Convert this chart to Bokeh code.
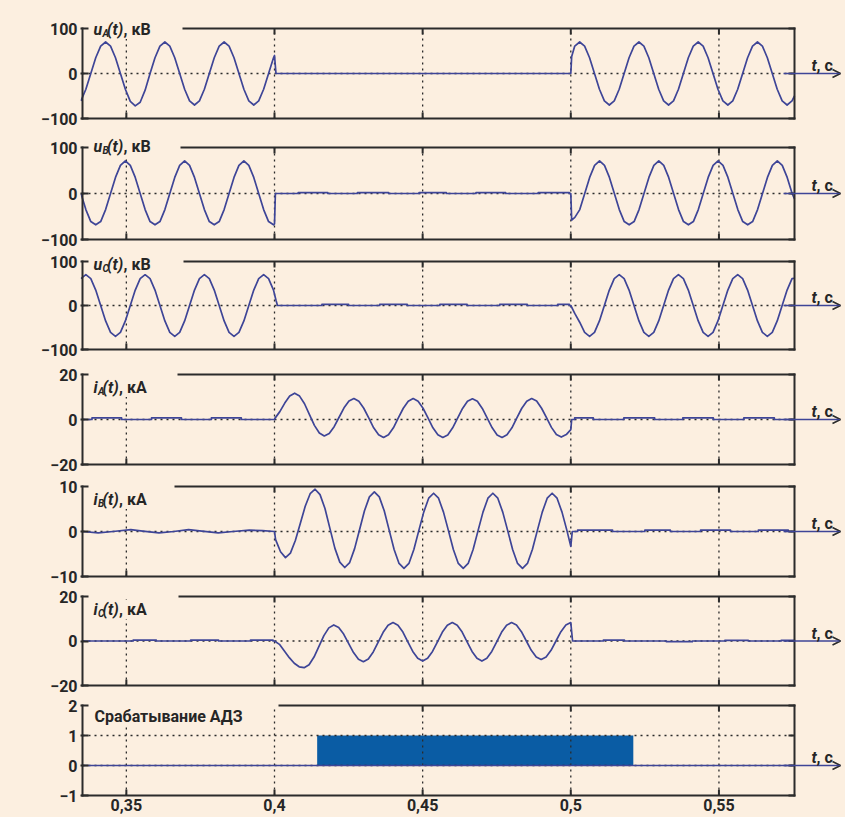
from bokeh.plotting import figure
from bokeh.layouts import column
from bokeh.models import Range1d, FixedTicker, CustomJSTickFormatter, Label, Arrow, OpenHead
from bokeh.embed import file_html
from bokeh.resources import INLINE

# ------------------------------------------------------------------
# Data
# ------------------------------------------------------------------
DT = 0.02 / 12                     # read-off step: 1/12 of a 50 Hz period
XTICKS = [0.35, 0.40, 0.45, 0.50, 0.55]
T_LEFT, T_RIGHT = 0.3352, 0.5755   # visible time window, s

# u_A(t), kV
uA_pre_t0 = 0.334667
uA_pre = [-61, -35, 0, 35, 61, 70, 61, 35, 0, -35,
          -62, -72, -64, -37, 0, 35, 61, 70, 61, 35,
          0, -35, -61, -70, -61, -35, 0, 35, 61, 70,
          61, 35, 0, -35, -61, -70, -61, -35, 0, 35]
uA_post_t0 = 0.501333
uA_post = [61, 70, 61, 35, 0, -35, -61, -70, -61, -35,
           0, 35, 61, 70, 61, 35, 0, -35, -61, -70,
           -61, -35, 0, 35, 61, 70, 61, 35, 0, -35,
           -61, -70, -61, -35, 0, 35, 61, 70, 61, 35,
           0, -35, -61, -70, -61]

# u_B(t), kV
uB_pre_t0 = 0.334667
uB_pre = [0, -35, -61, -68, -61, -35, 0, 35, 61, 71,
          61, 35, 0, -35, -61, -68, -61, -35, 0, 35,
          61, 71, 61, 35, 0, -35, -61, -68, -61, -35,
          0, 35, 61, 71, 61, 35, 0, -35, -61, -68]
uB_ripple = [(0.408, 0.418, 2), (0.428, 0.4385, 2), (0.4488, 0.458, 2),
             (0.468, 0.478, 2), (0.489, 0.4995, 2)]
uB_post_t0 = 0.501367
uB_post = [-52, -35, 0, 35, 61, 71, 61, 35, 0, -35,
           -61, -68, -61, -35, 0, 35, 61, 71, 61, 35,
           0, -35, -61, -68, -61, -35, 0, 35, 61, 71,
           61, 35, 0, -35, -61, -68, -61, -35, 0, 35,
           61, 71, 61, 35, 0]

# u_C(t), kV
uC_pre_t0 = 0.334667
uC_pre = [61, 70, 61, 35, 0, -35, -61, -70, -61, -35,
          0, 35, 61, 70, 61, 35, 0, -35, -61, -70,
          -61, -35, 0, 35, 61, 70, 61, 35, 0, -35,
          -61, -70, -61, -35, 0, 35, 61, 70, 61, 35]
uC_ripple = [(0.416, 0.425, 2.5), (0.4355, 0.4448, 2.5), (0.4558, 0.465, 2.5),
             (0.476, 0.4853, 2.5), (0.4956, 0.4995, 2.5)]
uC_post_t0 = 0.501333
uC_post = [-18, -38, -61, -70, -61, -35, 0, 35, 61, 70,
           61, 35, 0, -35, -61, -70, -61, -35, 0, 35,
           61, 70, 61, 35, 0, -35, -61, -70, -61, -35,
           0, 35, 61, 70, 61, 35, 0, -35, -61, -70,
           -61, -35, 0, 35, 61]

# i_A(t), kA
iA_ripple_pre = [(0.3384, 0.3484, 0.7), (0.3585, 0.3686, 0.7), (0.3787, 0.3888, 0.7)]
iA_fault_t0 = 0.400133
iA_fault = [0.5, 3.5, 7.3, 10.4, 11.7, 10.4, 7.0, 2.2, -2.6, -6.0,
            -7.3, -6.2, -3.2, 1.0, 5.2, 8.2, 9.3, 8.1, 5.0, 0.7,
            -3.7, -6.8, -8.0, -6.8, -3.7, 0.7, 5.0, 8.1, 9.3, 8.1,
            5.0, 0.7, -3.7, -6.8, -8.0, -6.9, -3.7, 0.6, 4.9, 8.1,
            9.2, 8.1, 4.9, 0.6, -3.7, -6.9, -8.0, -6.8, -3.7, 0.7,
            5.0, 8.1, 9.3, 8.2, 5.0, 0.8, -3.5, -6.7, -7.8, -6.7]
iA_ripple_post = [(0.5013, 0.5076, 0.7), (0.5179, 0.5283, 0.7),
                  (0.5378, 0.5481, 0.7), (0.5584, 0.5687, 0.7)]

# i_B(t), kA
iB_pre_t = [0.3352, 0.3405, 0.3455, 0.3515, 0.3555, 0.361, 0.366,
            0.371, 0.3755, 0.381, 0.386, 0.3915, 0.396, 0.4]
iB_pre_v = [0.0, -0.3, 0.0, 0.4, 0.1, -0.3, 0.0, 0.4, 0.1, -0.3, 0.0, 0.3, 0.2, 0.0]
iB_fault_t0 = 0.400367
iB_fault = [-1.8, -4.5, -5.8, -4.8, -2.0, 1.8, 5.6, 8.4, 9.4, 8.2,
            5.1, 0.7, -3.7, -6.8, -8.0, -6.9, -3.8, 0.4, 4.6, 7.7,
            8.8, 7.7, 4.6, 0.3, -4.0, -7.1, -8.2, -7.1, -4.0, 0.2,
            4.3, 7.4, 8.5, 7.4, 4.3, 0.2, -4.0, -7.1, -8.2, -7.1,
            -4.0, 0.2, 4.3, 7.4, 8.5, 7.4, 4.3, 0.2, -4.0, -7.1,
            -8.2, -7.1, -4.0, 0.2, 4.3, 7.4, 8.5, 7.4, 4.3, 0.2]
iB_ripple_post = [(0.5023, 0.5141, 0.3), (0.525, 0.5336, 0.3),
                  (0.5438, 0.5539, 0.3), (0.5633, 0.5734, 0.3)]

# i_C(t), kA
iC_ripple_pre = [(0.3523, 0.3601, 0.4), (0.3717, 0.3811, 0.4), (0.3919, 0.3995, 0.4)]
iC_fault_t0 = 0.4
iC_fault = [0, -1.5, -4.5, -7.5, -10.0, -11.6, -12.0, -10.7, -7.2, -2.4,
            2.4, 5.9, 7.2, 6.1, 3.1, -1.1, -5.2, -8.2, -9.3, -8.1,
            -4.9, -0.5, 3.9, 7.1, 8.3, 7.1, 4.0, -0.4, -4.7, -7.8,
            -9.0, -7.8, -4.7, -0.4, 4.0, 7.1, 8.3, 7.1, 4.0, -0.4,
            -4.7, -7.8, -9.0, -7.8, -4.7, -0.4, 4.0, 7.1, 8.3, 7.2,
            4.2, 0.0, -4.2, -7.2, -8.3, -7.2, -4.2, 0.0, 4.2, 7.2,
            8.3]
iC_ripple_post = [(0.511, 0.5181, 0.4), (0.5323, 0.541, -0.3),
                  (0.552, 0.5599, 0.3), (0.571, 0.5755, 0.3)]

# Trip signal of the protection (АДЗ)
trip_on, trip_off = 0.4144, 0.5211


# ------------------------------------------------------------------
# Assemble series
# ------------------------------------------------------------------
def grid(t0, n):
    return [t0 + k * DT for k in range(n)]


def ripple(t_from, t_to, bumps):
    t, v = [t_from], [0.0]
    for a, b, h in bumps:
        t += [a, a, b, b]
        v += [0.0, h, h, 0.0]
    t.append(t_to)
    v.append(0.0)
    return t, v


uA_t = grid(uA_pre_t0, len(uA_pre)) + [0.4, 0.4005, 0.5, 0.5003] + grid(uA_post_t0, len(uA_post)) + [T_RIGHT]
uA_v = uA_pre + [40, 0, 0, 38] + uA_post + [-50]

rB_t, rB_v = ripple(0.4003, 0.5, uB_ripple)
uB_t = grid(uB_pre_t0, len(uB_pre)) + [0.4] + rB_t + [0.5003] + grid(uB_post_t0, len(uB_post)) + [T_RIGHT]
uB_v = uB_pre + [-66] + rB_v + [-58] + uB_post + [-12]

rC_t, rC_v = ripple(0.401, 0.5, uC_ripple)
uC_t = grid(uC_pre_t0, len(uC_pre)) + [0.4005] + rC_t + grid(uC_post_t0, len(uC_post)) + [T_RIGHT]
uC_v = uC_pre + [12] + rC_v + uC_post + [62]

a1_t, a1_v = ripple(T_LEFT, 0.4, iA_ripple_pre)
a2_t, a2_v = ripple(0.5003, T_RIGHT, iA_ripple_post)
iA_t = a1_t + grid(iA_fault_t0, len(iA_fault)) + [0.5] + a2_t
iA_v = a1_v + iA_fault + [-4.5] + a2_v

b2_t, b2_v = ripple(0.5005, T_RIGHT, iB_ripple_post)
iB_t = iB_pre_t + grid(iB_fault_t0, len(iB_fault)) + [0.5] + b2_t
iB_v = iB_pre_v + iB_fault + [-3.3] + b2_v

c1_t, c1_v = ripple(T_LEFT, 0.3995, iC_ripple_pre)
c2_t, c2_v = ripple(0.5006, T_RIGHT, iC_ripple_post)
iC_t = c1_t + grid(iC_fault_t0, len(iC_fault)) + [0.5003] + c2_t
iC_v = c1_v + iC_fault + [4.0] + c2_v

# ------------------------------------------------------------------
# Styling / layout
# ------------------------------------------------------------------
BG = "#fcefe0"
FRAME_C = "#2b2b2b"
GRID_C = "#2b2b2b"
LINE_C = "#3e4597"
BAR_C = "#0a5ca4"
TEXT_C = "#262626"
FONT = "Roboto"
WEIGHT = "bold"

W = 845
FRAME_L, BORDER_L, BORDER_R, FRAME_R = 80, 82, 794, 843
PPS = (BORDER_R - BORDER_L) / (T_RIGHT - T_LEFT)   # px per second
X_START = T_LEFT - (BORDER_L - FRAME_L) / PPS
X_END = T_LEFT + (FRAME_R - BORDER_L) / PPS
D = 2          # px of frame below the drawn bottom border
TICK = 6       # tick length, px


def px_t(px):
    return T_LEFT + (px - BORDER_L) / PPS


panels = [
    dict(t=uA_t, v=uA_v, ylim=(-100, 100), yticks=[-100, 0, 100], T=28, B=118, S=(0, 127),
         main="u", sub="A", unit="кВ", tx=93, tb=29, gap=182),
    dict(t=uB_t, v=uB_v, ylim=(-100, 100), yticks=[-100, 0, 100], T=147, B=239, S=(127, 250),
         main="u", sub="B", unit="кВ", tx=93, tb=146, gap=180),
    dict(t=uC_t, v=uC_v, ylim=(-100, 100), yticks=[-100, 0, 100], T=261, B=349, S=(250, 361),
         main="u", sub="C", unit="кВ", tx=93, tb=264, gap=183),
    dict(t=iA_t, v=iA_v, ylim=(-20, 20), yticks=[-20, 0, 20], T=374, B=464, S=(361, 475),
         main="i", sub="A", unit="кА", tx=93, tb=387, gap=177),
    dict(t=iB_t, v=iB_v, ylim=(-10, 10), yticks=[-10, 0, 10], T=486, B=576, S=(475, 586),
         main="i", sub="B", unit="кА", tx=93, tb=499, gap=174),
    dict(t=iC_t, v=iC_v, ylim=(-20, 20), yticks=[-20, 0, 20], T=596, B=685, S=(586, 695),
         main="i", sub="C", unit="кА", tx=93, tb=609, gap=178),
    dict(t=None, v=None, ylim=(-1, 2), yticks=[-1, 0, 1, 2], T=705, B=795, S=(695, 817),
         title="Срабатывание АДЗ", tx=94, tb=716, gap=278),
]

Y_FMT = "return (tick < 0 ? '\\u2212' : '') + Math.abs(tick);"
X_FMT = "return tick.toFixed(2).replace(/0$/, '').replace('.', ',');"


def label(p, x_px, y, yoff, text, style="normal", size=16, bg=True):
    st = WEIGHT if style == "normal" else WEIGHT + " " + style
    p.add_layout(Label(x=px_t(x_px), y=y, y_offset=yoff, text=text,
                       text_font=FONT, text_font_size=f"{size}px", text_font_style=st,
                       text_color=TEXT_C, text_baseline="alphabetic", text_align="left",
                       background_fill_color=BG if bg else None))


def make_panel(spec, last):
    T, B = spec["T"], spec["B"]
    s0, s1 = spec["S"]
    ymin, ymax = spec["ylim"]
    ppu = (B - T) / (ymax - ymin)
    ftop = max(s0, min(T - D, spec["tb"] - 18))   # frame top includes the caption
    p = figure(width=W, height=s1 - s0,
               x_range=Range1d(X_START, X_END),
               y_range=Range1d(ymin - D / ppu, ymax + (T - ftop) / ppu),
               output_backend="svg", toolbar_location=None,
               x_axis_location="below" if last else None,
               min_border_left=FRAME_L, min_border_right=W - FRAME_R,
               min_border_top=ftop - s0, min_border_bottom=s1 - B - D)
    p.background_fill_color = BG
    p.border_fill_color = BG
    p.outline_line_color = None
    p.xgrid.visible = False
    p.ygrid.visible = False

    ax = p.yaxis[0]
    ax.ticker = FixedTicker(ticks=spec["yticks"], minor_ticks=[])
    ax.formatter = CustomJSTickFormatter(code=Y_FMT)
    ax.axis_line_color = None
    ax.major_tick_in = TICK + (BORDER_L - FRAME_L)
    ax.major_tick_out = 0
    ax.major_tick_line_color = FRAME_C
    ax.major_tick_line_width = 2
    ax.minor_tick_line_color = None
    ax.major_label_standoff = 3
    ax.major_label_text_font = FONT
    ax.major_label_text_font_style = WEIGHT
    ax.major_label_text_font_size = "16px"
    ax.major_label_text_color = TEXT_C

    if last:
        xa = p.xaxis[0]
        xa.ticker = FixedTicker(ticks=XTICKS, minor_ticks=[])
        xa.formatter = CustomJSTickFormatter(code=X_FMT)
        xa.axis_line_color = None
        xa.major_tick_line_color = None
        xa.minor_tick_line_color = None
        xa.major_tick_in = 0
        xa.major_tick_out = 0
        xa.major_label_standoff = 1
        xa.major_label_text_font = FONT
        xa.major_label_text_font_style = WEIGHT
        xa.major_label_text_font_size = "16px"
        xa.major_label_text_color = TEXT_C

    if spec["t"] is None:
        p.quad(left=[trip_on], right=[trip_off], bottom=[0], top=[1],
               fill_color=BAR_C, line_color=None)

    # dotted grid
    n = len(XTICKS)
    p.segment(x0=XTICKS, y0=[ymin] * n, x1=XTICKS, y1=[ymax] * n,
              line_color=GRID_C, line_width=1.3, line_dash="2 4")
    inner = [y for y in spec["yticks"] if ymin < y < ymax]
    p.segment(x0=[T_LEFT] * len(inner), y0=inner, x1=[T_RIGHT] * len(inner), y1=inner,
              line_color=GRID_C, line_width=1.3, line_dash="2 4")

    # signal
    if spec["t"] is not None:
        p.line(spec["t"], spec["v"], line_color=LINE_C, line_width=1.7, line_join="round")
    else:
        p.line([T_LEFT, T_RIGHT], [0, 0], line_color=LINE_C, line_width=1.7)

    # box border (top one interrupted by the caption)
    gap_t = px_t(spec["gap"])
    hx, hy = 1 / PPS, 1 / ppu          # half line width in data units
    p.segment(x0=[gap_t, T_LEFT - hx, T_RIGHT, T_LEFT],
              y0=[ymax, ymin, ymin - hy, ymin - hy],
              x1=[T_RIGHT + hx, T_RIGHT + hx, T_RIGHT, T_LEFT],
              y1=[ymax, ymin, ymax + hy, ymax + hy],
              line_color=FRAME_C, line_width=2)

    # inward ticks on bottom, top and right
    dy, dx = TICK / ppu, TICK / PPS
    top_x = [x for x in XTICKS if x > gap_t]
    p.segment(x0=XTICKS, y0=[ymin] * n, x1=XTICKS, y1=[ymin + dy] * n,
              line_color=FRAME_C, line_width=2)
    p.segment(x0=top_x, y0=[ymax] * len(top_x), x1=top_x, y1=[ymax - dy] * len(top_x),
              line_color=FRAME_C, line_width=2)
    yt = spec["yticks"]
    p.segment(x0=[T_RIGHT - dx] * len(yt), y0=yt, x1=[T_RIGHT] * len(yt), y1=yt,
              line_color=FRAME_C, line_width=2)

    # time-axis arrow
    p.add_layout(Arrow(end=OpenHead(size=8, line_color=FRAME_C, line_width=1.6),
                       x_start=px_t(783), y_start=0, x_end=px_t(840), y_end=0,
                       line_color=LINE_C, line_width=1.7))
    label(p, 811, 0, 8, "t", "italic", bg=False)
    label(p, 816, 0, 8, ", c", bg=False)

    # caption
    off = T - spec["tb"]
    x0 = spec["tx"]
    if "title" in spec:
        label(p, x0, ymax, off, spec["title"])
    else:
        w = 9 if spec["main"] == "u" else 4.5
        label(p, x0, ymax, off, spec["main"], "italic")
        label(p, x0 + w + 4.5, ymax, off, "(t)", "italic")
        label(p, x0 + w + 21, ymax, off, ", " + spec["unit"])
        label(p, x0 + w, ymax, off - 3.5, spec["sub"], "italic", size=10, bg=False)
    return p


figs = [make_panel(s, i == len(panels) - 1) for i, s in enumerate(panels)]
layout = column(*figs, spacing=0, styles={"background-color": BG})

open("out.html", "w").write(file_html(layout, INLINE, "Срабатывание АДЗ"))
